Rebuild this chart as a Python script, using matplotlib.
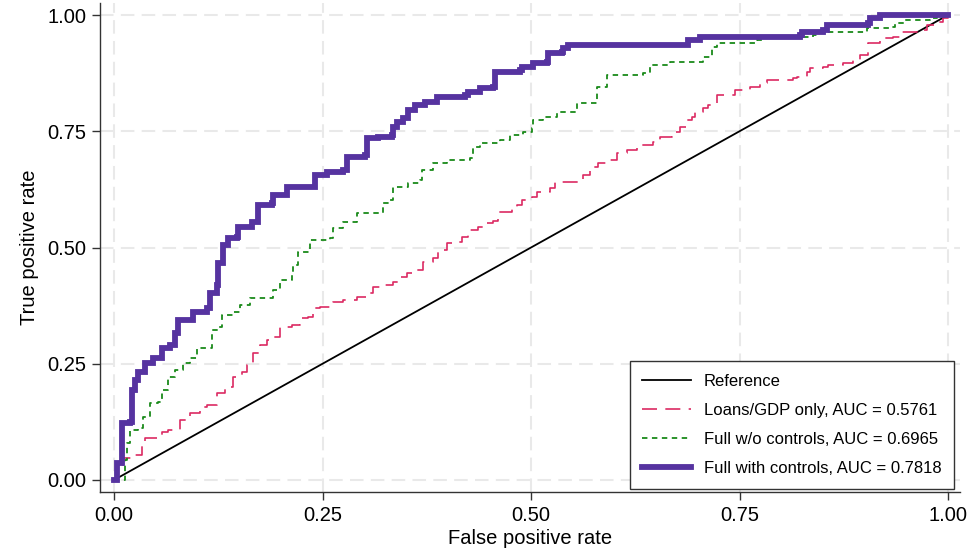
import matplotlib
matplotlib.use("Agg")
import matplotlib.pyplot as plt

plt.rcParams['font.family'] = ['Liberation Sans', 'DejaVu Sans']

# Reference (45-degree line)
ref_fpr = [0.0, 1.0]
ref_tpr = [0.0, 1.0]

# Loans/GDP only
loans_fpr = [0.0, 0.005, 0.011, 0.022, 0.034, 0.037, 0.049, 0.058, 0.065, 0.079, 0.091, 0.103, 0.112,
             0.124, 0.133, 0.143, 0.153, 0.159, 0.167, 0.175, 0.183, 0.191, 0.199, 0.213, 0.223, 0.233,
             0.239, 0.247, 0.263, 0.275, 0.291, 0.307, 0.311, 0.323, 0.335, 0.343, 0.351, 0.363, 0.371,
             0.382, 0.388, 0.399, 0.411, 0.417, 0.424, 0.436, 0.442, 0.454, 0.460, 0.477, 0.483, 0.489,
             0.501, 0.507, 0.523, 0.529, 0.547, 0.562, 0.571, 0.580, 0.595, 0.603, 0.615, 0.627, 0.646,
             0.655, 0.669, 0.679, 0.687, 0.693, 0.697, 0.706, 0.712, 0.723, 0.739, 0.745, 0.763, 0.775,
             0.783, 0.814, 0.819, 0.831, 0.835, 0.850, 0.856, 0.874, 0.886, 0.894, 0.904, 0.918, 0.934,
             0.942, 0.963, 0.975, 0.987, 0.994, 1.0]
loans_tpr = [0.0, 0.026, 0.047, 0.054, 0.080, 0.090, 0.090, 0.103, 0.108, 0.129, 0.144, 0.157, 0.161,
             0.187, 0.200, 0.222, 0.232, 0.247, 0.273, 0.290, 0.301, 0.308, 0.329, 0.333, 0.348, 0.351,
             0.370, 0.372, 0.383, 0.387, 0.394, 0.402, 0.415, 0.419, 0.426, 0.437, 0.445, 0.452, 0.469,
             0.477, 0.495, 0.510, 0.512, 0.523, 0.538, 0.544, 0.553, 0.557, 0.576, 0.585, 0.591, 0.602,
             0.609, 0.619, 0.628, 0.641, 0.641, 0.656, 0.673, 0.682, 0.688, 0.703, 0.710, 0.720, 0.727,
             0.738, 0.748, 0.759, 0.774, 0.781, 0.791, 0.800, 0.806, 0.828, 0.828, 0.839, 0.845, 0.854,
             0.860, 0.865, 0.867, 0.877, 0.886, 0.888, 0.892, 0.897, 0.903, 0.914, 0.940, 0.951, 0.953,
             0.963, 0.968, 0.978, 0.985, 0.994, 1.0]

# Full w/o controls
nocon_fpr = [0.0, 0.013, 0.016, 0.019, 0.029, 0.035, 0.043, 0.053, 0.058, 0.065, 0.073, 0.083, 0.091,
             0.100, 0.115, 0.118, 0.125, 0.129, 0.143, 0.151, 0.163, 0.187, 0.191, 0.199, 0.213, 0.215,
             0.221, 0.235, 0.259, 0.263, 0.275, 0.291, 0.311, 0.323, 0.331, 0.335, 0.353, 0.367, 0.369,
             0.382, 0.399, 0.427, 0.430, 0.439, 0.463, 0.475, 0.490, 0.501, 0.502, 0.514, 0.531, 0.550,
             0.555, 0.574, 0.579, 0.591, 0.634, 0.643, 0.667, 0.706, 0.717, 0.723, 0.763, 0.771, 0.778,
             0.838, 0.843, 0.898, 0.903, 0.930, 0.936, 0.948, 0.978, 0.987, 1.0]
nocon_tpr = [0.0, 0.043, 0.080, 0.108, 0.112, 0.135, 0.166, 0.168, 0.194, 0.222, 0.237, 0.252, 0.262,
             0.284, 0.284, 0.323, 0.329, 0.355, 0.361, 0.376, 0.391, 0.391, 0.409, 0.430, 0.441, 0.462,
             0.490, 0.516, 0.520, 0.542, 0.555, 0.574, 0.574, 0.596, 0.602, 0.630, 0.639, 0.645, 0.667,
             0.682, 0.688, 0.692, 0.716, 0.725, 0.731, 0.742, 0.748, 0.757, 0.774, 0.781, 0.791, 0.791,
             0.811, 0.811, 0.845, 0.871, 0.875, 0.892, 0.899, 0.910, 0.931, 0.940, 0.940, 0.946, 0.953,
             0.957, 0.963, 0.963, 0.972, 0.974, 0.983, 0.989, 0.994, 1.0, 1.0]

# Full with controls
full_fpr = [0.0, 0.004, 0.010, 0.010, 0.019, 0.022, 0.025, 0.029, 0.037, 0.047, 0.058, 0.067, 0.073,
            0.077, 0.094, 0.095, 0.112, 0.115, 0.124, 0.125, 0.131, 0.137, 0.147, 0.149, 0.165, 0.173,
            0.189, 0.191, 0.205, 0.207, 0.237, 0.241, 0.255, 0.275, 0.279, 0.301, 0.303, 0.317, 0.333,
            0.335, 0.339, 0.347, 0.353, 0.361, 0.373, 0.387, 0.421, 0.424, 0.439, 0.454, 0.457, 0.487,
            0.489, 0.502, 0.519, 0.520, 0.537, 0.538, 0.544, 0.685, 0.688, 0.703, 0.823, 0.825, 0.850,
            0.855, 0.904, 0.906, 0.918, 1.0]
full_tpr = [0.0, 0.037, 0.049, 0.123, 0.125, 0.194, 0.215, 0.232, 0.252, 0.262, 0.284, 0.290, 0.316,
            0.344, 0.344, 0.361, 0.370, 0.402, 0.419, 0.467, 0.505, 0.520, 0.523, 0.544, 0.555, 0.591,
            0.596, 0.613, 0.613, 0.630, 0.630, 0.656, 0.662, 0.667, 0.695, 0.699, 0.735, 0.738, 0.742,
            0.759, 0.770, 0.778, 0.796, 0.806, 0.813, 0.824, 0.828, 0.834, 0.843, 0.845, 0.877, 0.882,
            0.888, 0.897, 0.899, 0.918, 0.920, 0.929, 0.935, 0.935, 0.946, 0.953, 0.957, 0.963, 0.968,
            0.978, 0.983, 0.994, 1.0, 1.0]

labels = ["Reference", "Loans/GDP only, AUC = 0.5761",
          "Full w/o controls, AUC = 0.6965", "Full with controls, AUC = 0.7818"]
ticks = [0.0, 0.25, 0.5, 0.75, 1.0]
tick_labels = ["0.00", "0.25", "0.50", "0.75", "1.00"]

fig = plt.figure(figsize=(9.72, 5.58), dpi=100)
ax = fig.add_axes([0.1029, 0.1183, 0.8848, 0.8763])

ax.plot(ref_fpr, ref_tpr, color='black', lw=1.3, label=labels[0], zorder=3)
ax.plot(loans_fpr, loans_tpr, color='#dc2a62', lw=1.2, dashes=(9, 5), label=labels[1], zorder=4,
        drawstyle='steps-post')
ax.plot(nocon_fpr, nocon_tpr, color='#1a8a1a', lw=1.3, dashes=(3, 2.5), label=labels[2], zorder=5,
        drawstyle='steps-post')
ax.plot(full_fpr, full_tpr, color='#5633a0', lw=4.2, label=labels[3], zorder=6,
        drawstyle='steps-post', solid_joinstyle='miter')

ax.set_xlim(-0.0168, 1.0144)
ax.set_ylim(-0.0258, 1.0258)
ax.set_xticks(ticks)
ax.set_xticklabels(tick_labels)
ax.set_yticks(ticks)
ax.set_yticklabels(tick_labels)
ax.tick_params(labelsize=14.5, length=6, width=1, color='#333333', pad=4)
ax.set_xlabel("False positive rate", fontsize=14.5, labelpad=3)
ax.set_ylabel("True positive rate", fontsize=14.5, labelpad=6)

for s in ['top', 'right']:
    ax.spines[s].set_visible(False)
for s in ['left', 'bottom']:
    ax.spines[s].set_color('#333333')
    ax.spines[s].set_linewidth(1.0)

ax.grid(True, color='#e9e9e9', lw=1.5, dashes=(6.5, 3.5))
ax.set_axisbelow(True)

leg = ax.legend(loc='lower right', bbox_to_anchor=(0.997, 0.0), fontsize=12,
                frameon=True, fancybox=False, edgecolor='#333333', framealpha=1,
                handlelength=2.9, labelspacing=0.85, borderpad=0.75, handletextpad=0.8,
                borderaxespad=0.2)
leg.get_frame().set_linewidth(1.0)

fig.savefig("out.png", dpi=100)
